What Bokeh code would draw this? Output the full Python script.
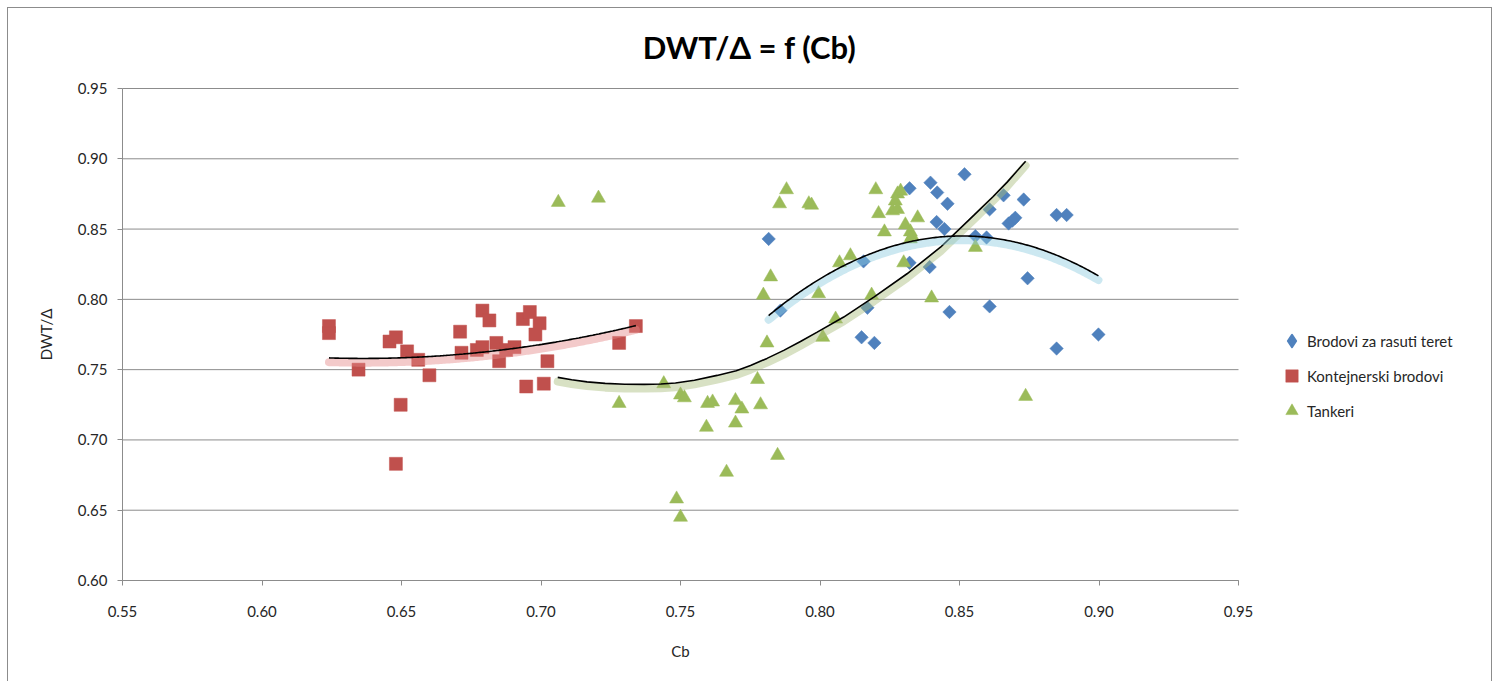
import numpy as np
from bokeh.plotting import figure
from bokeh.models import Range1d, FixedTicker, PrintfTickFormatter, Legend, LegendItem, Label
from bokeh.embed import file_html
from bokeh.resources import INLINE

# ---- data ----
bulk_cb = [0.7816, 0.7858, 0.8156, 0.8149, 0.8195, 0.8170, 0.8321, 0.8321, 0.8396, 0.8420,
           0.8457, 0.8418, 0.8446, 0.8393, 0.8464, 0.8518, 0.8557, 0.8597, 0.8608, 0.8608,
           0.8658, 0.8730, 0.8676, 0.8690, 0.8700, 0.8744, 0.8848, 0.8884, 0.8848, 0.8998]
bulk_dwt = [0.843, 0.792, 0.827, 0.773, 0.769, 0.794, 0.826, 0.879, 0.883, 0.876,
            0.868, 0.855, 0.850, 0.823, 0.791, 0.889, 0.845, 0.844, 0.864, 0.795,
            0.874, 0.871, 0.854, 0.856, 0.858, 0.815, 0.860, 0.860, 0.765, 0.775]

cont_cb = [0.624, 0.624, 0.6346, 0.6457, 0.648, 0.652, 0.656, 0.660, 0.6497, 0.648,
           0.671, 0.6715, 0.679, 0.6815, 0.677, 0.679, 0.684, 0.685, 0.6875, 0.6905,
           0.6935, 0.696, 0.6995, 0.698, 0.7023, 0.6947, 0.701, 0.728, 0.734]
cont_dwt = [0.781, 0.776, 0.750, 0.770, 0.773, 0.763, 0.757, 0.746, 0.725, 0.683,
            0.777, 0.762, 0.792, 0.785, 0.764, 0.766, 0.769, 0.756, 0.764, 0.766,
            0.786, 0.791, 0.783, 0.775, 0.756, 0.738, 0.740, 0.769, 0.781]

tank_cb = [0.7062, 0.7206, 0.788, 0.7855, 0.796, 0.797, 0.7823, 0.7797, 0.7995, 0.8056,
           0.801, 0.781, 0.7776, 0.744, 0.750, 0.7514, 0.728, 0.7597, 0.7615, 0.7697,
           0.772, 0.7787, 0.7593, 0.7697, 0.7848, 0.7665, 0.7486, 0.750, 0.820, 0.8278,
           0.8289, 0.827, 0.826, 0.8278, 0.821, 0.835, 0.8306, 0.8324, 0.833, 0.8231,
           0.8324, 0.8557, 0.8109, 0.807, 0.830, 0.8185, 0.840, 0.8737]
tank_dwt = [0.869, 0.872, 0.878, 0.868, 0.868, 0.867, 0.816, 0.803, 0.804, 0.786,
            0.773, 0.769, 0.743, 0.740, 0.732, 0.730, 0.726, 0.726, 0.727, 0.728,
            0.722, 0.725, 0.709, 0.712, 0.689, 0.677, 0.658, 0.645, 0.878, 0.875,
            0.877, 0.870, 0.863, 0.864, 0.861, 0.858, 0.853, 0.848, 0.845, 0.848,
            0.843, 0.837, 0.831, 0.826, 0.826, 0.803, 0.801, 0.731]

# Tankeri trendline as drawn in the reference
tank_trend_cb = [0.7060, 0.7110, 0.7165, 0.7230, 0.7300, 0.7370, 0.7430, 0.7482, 0.7550,
                 0.7631, 0.7700, 0.7751, 0.7810, 0.7870, 0.7930, 0.7990, 0.8085, 0.8193,
                 0.8312, 0.8432, 0.8551, 0.8620, 0.8671, 0.8737]
tank_trend_dwt = [0.7445, 0.7428, 0.7413, 0.7402, 0.7396, 0.7395, 0.7398, 0.7405, 0.7425,
                  0.7459, 0.7492, 0.7530, 0.7580, 0.7637, 0.7700, 0.7767, 0.7874, 0.8016,
                  0.8182, 0.8371, 0.8597, 0.8730, 0.8834, 0.8983]

x_ticks = [0.55, 0.60, 0.65, 0.70, 0.75, 0.80, 0.85, 0.90, 0.95]
y_ticks = [0.60, 0.65, 0.70, 0.75, 0.80, 0.85, 0.90, 0.95]

series_names = ["Brodovi za rasuti teret", "Kontejnerski brodovi", "Tankeri"]
title_text = "DWT/\u0394 = f (Cb)"
x_title = "Cb"
y_title = "DWT/\u0394"

BLUE, RED, GREEN = "#4F81BD", "#C0504D", "#9BBB59"
GLOW_BLUE, GLOW_RED, GLOW_GREEN = "#8FCBE0", "#E58A8A", "#A9BC7C"
FONT = "Lato"
TXT = "#262626"
GRID = "#8C8C8C"

# ---- geometry ----
# The frame covers the whole chart area (1483 x 673 px); the axes span
# 1116 x 492 px inside it, starting 114 px from the left and 80 px from the top.
X0, X1, Y0, Y1 = 0.55, 0.95, 0.60, 0.95
AX_W, AX_H = 1116, 492
FRAME_W, FRAME_H = 1483, 673
AX_LEFT, AX_TOP = 114, 80
sx = (X1 - X0) / AX_W          # data units per px
sy = (Y1 - Y0) / AX_H
x_start, x_end = X0 - AX_LEFT * sx, X0 + (FRAME_W - AX_LEFT) * sx
y_end = Y1 + AX_TOP * sy
y_start = Y1 - (FRAME_H - AX_TOP) * sy

p = figure(frame_width=FRAME_W, frame_height=FRAME_H, title=None,
           x_range=Range1d(x_start, x_end), y_range=Range1d(y_start, y_end),
           output_backend="svg", toolbar_location=None,
           min_border_left=0, min_border_right=0, min_border_top=0, min_border_bottom=0)
p.outline_line_color = None
p.background_fill_color = "white"
p.border_fill_color = "white"
p.styles = {"margin-left": "7px", "margin-top": "7px",
            "border-top": "1px solid #8C8C8C", "border-left": "1px solid #8C8C8C",
            "border-right": "1px solid #8C8C8C"}

p.xgrid.visible = False
p.ygrid.visible = False
# horizontal gridlines over the axis span only
p.segment(x0=[X0] * len(y_ticks), y0=y_ticks, x1=[X1] * len(y_ticks), y1=y_ticks,
          line_color=GRID, line_width=1)

for ax, ticks, bounds, loc in ((p.xaxis[0], x_ticks, (X0, X1), Y0),
                               (p.yaxis[0], y_ticks, (Y0, Y1), X0)):
    ax.ticker = FixedTicker(ticks=ticks)
    ax.bounds = bounds
    ax.fixed_location = loc
    ax.formatter = PrintfTickFormatter(format="%.2f")
    ax.axis_line_color = GRID
    ax.major_tick_line_color = GRID
    ax.major_tick_out = 5
    ax.major_tick_in = 0
    ax.minor_tick_line_color = None
    ax.major_label_text_font = FONT
    ax.major_label_text_font_size = "15px"
    ax.major_label_text_color = TXT

p.xaxis.major_label_standoff = 20
p.yaxis.major_label_standoff = 10

# axis titles
p.add_layout(Label(x=(X0 + X1) / 2, y=Y0 - 70 * sy, text=x_title,
                   text_align="center", text_baseline="middle",
                   text_font=FONT, text_font_size="15px", text_color=TXT))
p.add_layout(Label(x=X0 - 77 * sx, y=(Y0 + Y1) / 2, text=y_title, angle=np.pi / 2,
                   text_align="center", text_baseline="middle",
                   text_font=FONT, text_font_size="15px", text_color=TXT))

# ---- scatter series ----
r_bulk = p.scatter(bulk_cb, bulk_dwt, marker="square", angle=np.pi / 4, size=9.5,
                   fill_color=BLUE, line_color=BLUE, line_width=0.5)
r_cont = p.scatter(cont_cb, cont_dwt, marker="square", size=13,
                   fill_color=RED, line_color=RED, line_width=0.5)
r_tank = p.scatter(tank_cb, tank_dwt, marker="triangle", size=14,
                   fill_color=GREEN, line_color=GREEN, line_width=0.5)

# ---- trendlines (black) with coloured glow ----
def draw_trend(tx, ty, glow):
    ty = np.asarray(ty)
    p.line(tx, ty - 0.003, line_color=glow, line_width=8, line_alpha=0.45, line_cap="round")
    p.line(tx, ty, line_color="black", line_width=1.6)

def poly_trend(xs, ys, deg, glow):
    c = np.polyfit(xs, ys, deg)
    tx = np.linspace(min(xs), max(xs), 200)
    draw_trend(tx, np.polyval(c, tx), glow)

poly_trend(cont_cb, cont_dwt, 2, GLOW_RED)
draw_trend(tank_trend_cb, tank_trend_dwt, GLOW_GREEN)
poly_trend(bulk_cb, bulk_dwt, 2, GLOW_BLUE)

# ---- legend ----
k_bulk = p.scatter(x=[np.nan], y=[np.nan], marker="diamond", size=10,
                   fill_color=BLUE, line_color=BLUE, line_width=2, line_join="round")
legend = Legend(items=[LegendItem(label=series_names[0], renderers=[k_bulk]),
                       LegendItem(label=series_names[1], renderers=[r_cont]),
                       LegendItem(label=series_names[2], renderers=[r_tank])],
                location=(AX_LEFT + 1154, FRAME_H - AX_TOP - AX_H + 154))
legend.glyph_width = 31
legend.glyph_height = 31
legend.label_height = 31
legend.spacing = 4
legend.padding = 0
legend.margin = 0
legend.label_standoff = -5
legend.border_line_color = None
legend.background_fill_alpha = 0
legend.label_text_font = FONT
legend.label_text_font_size = "15px"
legend.label_text_color = TXT
p.add_layout(legend, "center")

# ---- chart title ----
p.add_layout(Label(x=X0 + 627 * sx, y=Y1 + 42 * sy,
                   text=title_text, text_align="center", text_baseline="middle",
                   text_font=FONT, text_font_size="31px", text_font_style="bold",
                   text_color="black"))

open("out.html", "w").write(file_html(p, INLINE))
